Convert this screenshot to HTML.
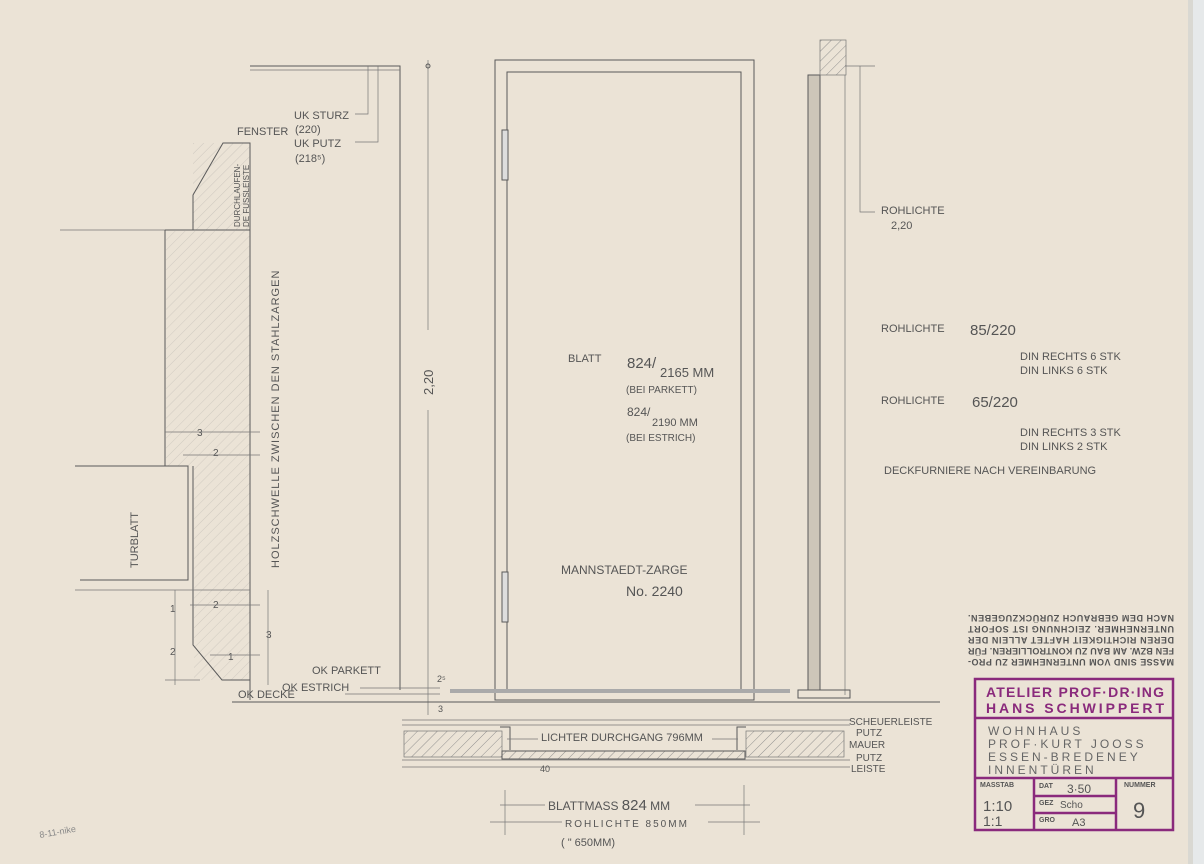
<!DOCTYPE html>
<html><head><meta charset="utf-8"><style>
html,body{margin:0;padding:0;background:#ebe3d6;}
svg{display:block}
text{font-family:"Liberation Sans",sans-serif;fill:#555;}
.s{stroke:#5a5a5a;fill:none;stroke-width:1}
.t{stroke:#777;fill:none;stroke-width:.7}
.p{fill:#8a2a7c;font-weight:bold}
</style></head><body>
<svg width="1204" height="864" viewBox="0 0 1204 864" xmlns="http://www.w3.org/2000/svg">
<defs>
<pattern id="h" width="7" height="7" patternUnits="userSpaceOnUse" patternTransform="rotate(45)"><line x1="0" y1="0" x2="0" y2="7" stroke="#888" stroke-width="0.9"/></pattern>
</defs>
<rect width="1204" height="864" fill="#ebe3d6"/>
<rect x="1188" y="0" width="16" height="864" fill="#e6e9ea"/>
<rect x="1188" y="0" width="5" height="864" fill="#d9d8d2"/>

<!-- left detail -->
<line class="t" x1="60" y1="230" x2="165" y2="230"/>
<rect x="193" y="143" width="57" height="87" style="fill:url(#h)" opacity=".35"/>
<rect x="166" y="231" width="84" height="235" style="fill:url(#h)" opacity=".3"/>
<rect x="194" y="466" width="56" height="214" style="fill:url(#h)" opacity=".3"/>
<path class="s" d="M165 230 H250 V700 M165 230 V466 H188"/>
<path class="s" d="M75 466 H188 V580 H80"/>
<path class="s" d="M193 466 V580 V645 L222 680 H250"/>
<line class="t" x1="75" y1="590" x2="250" y2="590"/>
<path class="s" d="M193 230 V195 L223 143 H250 V230"/>
<text x="237" y="135" font-size="11">FENSTER</text>
<text x="0" y="0" font-size="8" transform="translate(240,227) rotate(-90)">DURCHLAUFEN-</text>
<text x="0" y="0" font-size="8" transform="translate(249,227) rotate(-90)">DE FUSSLEISTE</text>
<text x="0" y="0" font-size="11" transform="translate(138,568) rotate(-90)">TURBLATT</text>
<text x="0" y="0" font-size="11" letter-spacing="1" transform="translate(279,568) rotate(-90)">HOLZSCHWELLE ZWISCHEN DEN STAHLZARGEN</text>
<g font-size="10">
<text x="197" y="436">3</text><text x="213" y="456">2</text>
<text x="213" y="608">2</text><text x="266" y="638">3</text>
<text x="170" y="612">1</text><text x="170" y="655">2</text><text x="228" y="660">1</text>
</g>
<g class="t">
<line x1="165" y1="432" x2="260" y2="432"/><line x1="183" y1="455" x2="260" y2="455"/>
<line x1="190" y1="605" x2="260" y2="605"/><line x1="210" y1="655" x2="260" y2="655"/>
<line x1="175" y1="590" x2="175" y2="685"/><line x1="268" y1="590" x2="268" y2="685"/>
<line x1="165" y1="680" x2="200" y2="680"/>
</g>
<!-- top left lines -->
<path class="s" d="M250 66 H400 V690"/>
<line class="t" x1="250" y1="70" x2="400" y2="70"/>
<path class="t" d="M368 66 V114 H355 M378 66 V142 H355"/>
<text x="294" y="119" font-size="11">UK STURZ</text>
<text x="295" y="133" font-size="11">(220)</text>
<text x="294" y="147" font-size="11">UK PUTZ</text>
<text x="295" y="162" font-size="11">(218⁵)</text>
<!-- 2,20 dim -->
<line class="t" x1="428" y1="60" x2="428" y2="330"/>
<line class="t" x1="428" y1="410" x2="428" y2="715"/>
<circle cx="428" cy="66" r="2" class="s"/>
<text x="0" y="0" font-size="13" transform="translate(433,395) rotate(-90)">2,20</text>
<!-- floor lines -->
<line class="s" x1="232" y1="702" x2="940" y2="702"/>
<line class="t" x1="345" y1="694" x2="440" y2="694"/>
<line class="t" x1="360" y1="688" x2="440" y2="688"/>
<text x="312" y="674" font-size="11">OK PARKETT</text>
<text x="282" y="691" font-size="11">OK ESTRICH</text>
<text x="238" y="698" font-size="11">OK DECKE</text>
<text x="437" y="682" font-size="9">2⁵</text><text x="438" y="712" font-size="9">3</text>

<!-- door -->
<rect class="s" x="495" y="60" width="259" height="640"/>
<rect class="s" x="507" y="72" width="234" height="620"/>
<rect x="502" y="130" width="6" height="50" class="s" style="fill:#ddd"/>
<rect x="502" y="572" width="6" height="50" class="s" style="fill:#ddd"/>
<rect x="450" y="689" width="340" height="4" fill="#aaa"/>
<text x="568" y="362" font-size="11">BLATT</text>
<text x="627" y="368" font-size="15">824/</text><text x="660" y="377" font-size="13">2165  MM</text>
<text x="626" y="393" font-size="10">(BEI PARKETT)</text>
<text x="627" y="416" font-size="12">824/</text><text x="652" y="426" font-size="11">2190  MM</text>
<text x="626" y="441" font-size="10">(BEI ESTRICH)</text>
<text x="561" y="574" font-size="12">MANNSTAEDT-ZARGE</text>
<text x="626" y="596" font-size="14">No. 2240</text>

<!-- wall section right -->
<rect x="808" y="75" width="12" height="615" class="s" style="fill:#cdc6b9"/>
<rect x="820" y="40" width="26" height="35" class="t" style="fill:url(#h)"/>
<line class="t" x1="845" y1="75" x2="845" y2="695"/>
<path class="s" d="M798 690 H850 V698 H798 Z"/>
<path class="t" d="M845 66 H875 M860 66 V212 H875"/>
<text x="881" y="214" font-size="11">ROHLICHTE</text>
<text x="891" y="229" font-size="11">2,20</text>
<text x="881" y="332" font-size="11">ROHLICHTE</text><text x="970" y="335" font-size="15">85/220</text>
<text x="1020" y="360" font-size="11">DIN RECHTS   6 STK</text>
<text x="1020" y="374" font-size="11">DIN LINKS     6 STK</text>
<text x="881" y="404" font-size="11">ROHLICHTE</text><text x="972" y="407" font-size="15">65/220</text>
<text x="1020" y="436" font-size="11">DIN RECHTS   3 STK</text>
<text x="1020" y="450" font-size="11">DIN LINKS     2 STK</text>
<text x="884" y="474" font-size="11">DECKFURNIERE  NACH  VEREINBARUNG</text>

<!-- bottom plan section -->
<g class="t">
<line x1="402" y1="720" x2="850" y2="720"/><line x1="402" y1="725" x2="850" y2="725"/>
<line x1="402" y1="760" x2="850" y2="760"/><line x1="402" y1="767" x2="850" y2="767"/>
</g>
<rect x="404" y="731" width="98" height="26" class="t" style="fill:url(#h)"/>
<rect x="746" y="731" width="98" height="26" class="t" style="fill:url(#h)"/>
<path class="s" d="M500 727 H510 V750 M746 727 H737 V750"/>
<rect x="502" y="751" width="243" height="8" class="s" style="fill:url(#h)"/>
<text x="541" y="741" font-size="11">LICHTER DURCHGANG 796MM</text>
<line class="t" x1="507" y1="739" x2="538" y2="739"/><line class="t" x1="712" y1="739" x2="738" y2="739"/>
<text x="540" y="772" font-size="9">40</text>
<g font-size="10"><text x="849" y="725">SCHEUERLEISTE</text><text x="856" y="736">PUTZ</text><text x="849" y="748">MAUER</text><text x="856" y="761">PUTZ</text><text x="851" y="772">LEISTE</text></g>
<g class="t">
<line x1="505" y1="790" x2="505" y2="835"/><line x1="744" y1="785" x2="744" y2="835"/>
<line x1="500" y1="805" x2="545" y2="805"/><line x1="695" y1="805" x2="750" y2="805"/>
<line x1="490" y1="822" x2="562" y2="822"/><line x1="708" y1="822" x2="760" y2="822"/>
</g>
<text x="548" y="810" font-size="12">BLATTMASS  <tspan font-size="15">824</tspan> MM</text>
<text x="565" y="827" font-size="10" letter-spacing="2">ROHLICHTE 850MM</text>
<text x="561" y="846" font-size="11">(   "          650MM)</text>

<!-- stamp -->
<g class="p" font-size="9" transform="rotate(180 1071 643)">
<text x="968" y="627" textLength="206">MASSE SIND VOM UNTERNEHMER ZU PRO-</text>
<text x="968" y="638" textLength="206">FEN BZW. AM BAU ZU KONTROLLIEREN. FÜR</text>
<text x="968" y="649" textLength="206">DEREN RICHTIGKEIT HAFTET ALLEIN DER</text>
<text x="968" y="660" textLength="206">UNTERNEHMER. ZEICHNUNG IST SOFORT</text>
<text x="968" y="671" textLength="206">NACH DEM GEBRAUCH ZURÜCKZUGEBEN.</text>
</g>
<g stroke="#8a2a7c" fill="none" stroke-width="2.5">
<rect x="975" y="679" width="198" height="151"/>
<line x1="975" y1="718" x2="1173" y2="718"/>
<line x1="975" y1="778" x2="1173" y2="778"/>
<line x1="1034" y1="778" x2="1034" y2="830"/>
<line x1="1116" y1="778" x2="1116" y2="830"/>
<line x1="1034" y1="796" x2="1116" y2="796"/>
<line x1="1034" y1="813" x2="1116" y2="813"/>
</g>
<text class="p" x="986" y="697" font-size="14" textLength="178">ATELIER PROF·DR·ING</text>
<text class="p" x="986" y="713" font-size="14" textLength="178">HANS SCHWIPPERT</text>
<g font-size="12" letter-spacing="3"><text x="988" y="735" style="fill:#666">WOHNHAUS</text><text x="988" y="748" style="fill:#666">PROF·KURT JOOSS</text><text x="988" y="761" style="fill:#666">ESSEN-BREDENEY</text><text x="988" y="774" style="fill:#666">INNENTÜREN</text></g>
<g class="p" font-size="7"><text x="980" y="787">MASSTAB</text><text x="1039" y="788">DAT</text><text x="1124" y="787">NUMMER</text><text x="1039" y="805">GEZ</text><text x="1039" y="822">GRO</text></g>
<text x="983" y="811" font-size="15" style="fill:#555">1:10</text>
<text x="983" y="826" font-size="14" style="fill:#555">1:1</text>
<text x="1067" y="793" font-size="12" style="fill:#555">3·50</text>
<text x="1060" y="808" font-size="10" style="fill:#555">Scho</text>
<text x="1072" y="826" font-size="11" style="fill:#555">A3</text>
<text x="1133" y="818" font-size="22" style="fill:#555">9</text>
<text x="0" y="0" font-size="9" style="fill:#888" transform="translate(40,838) rotate(-10)">8-11-nike</text>
</svg>
</body></html>
